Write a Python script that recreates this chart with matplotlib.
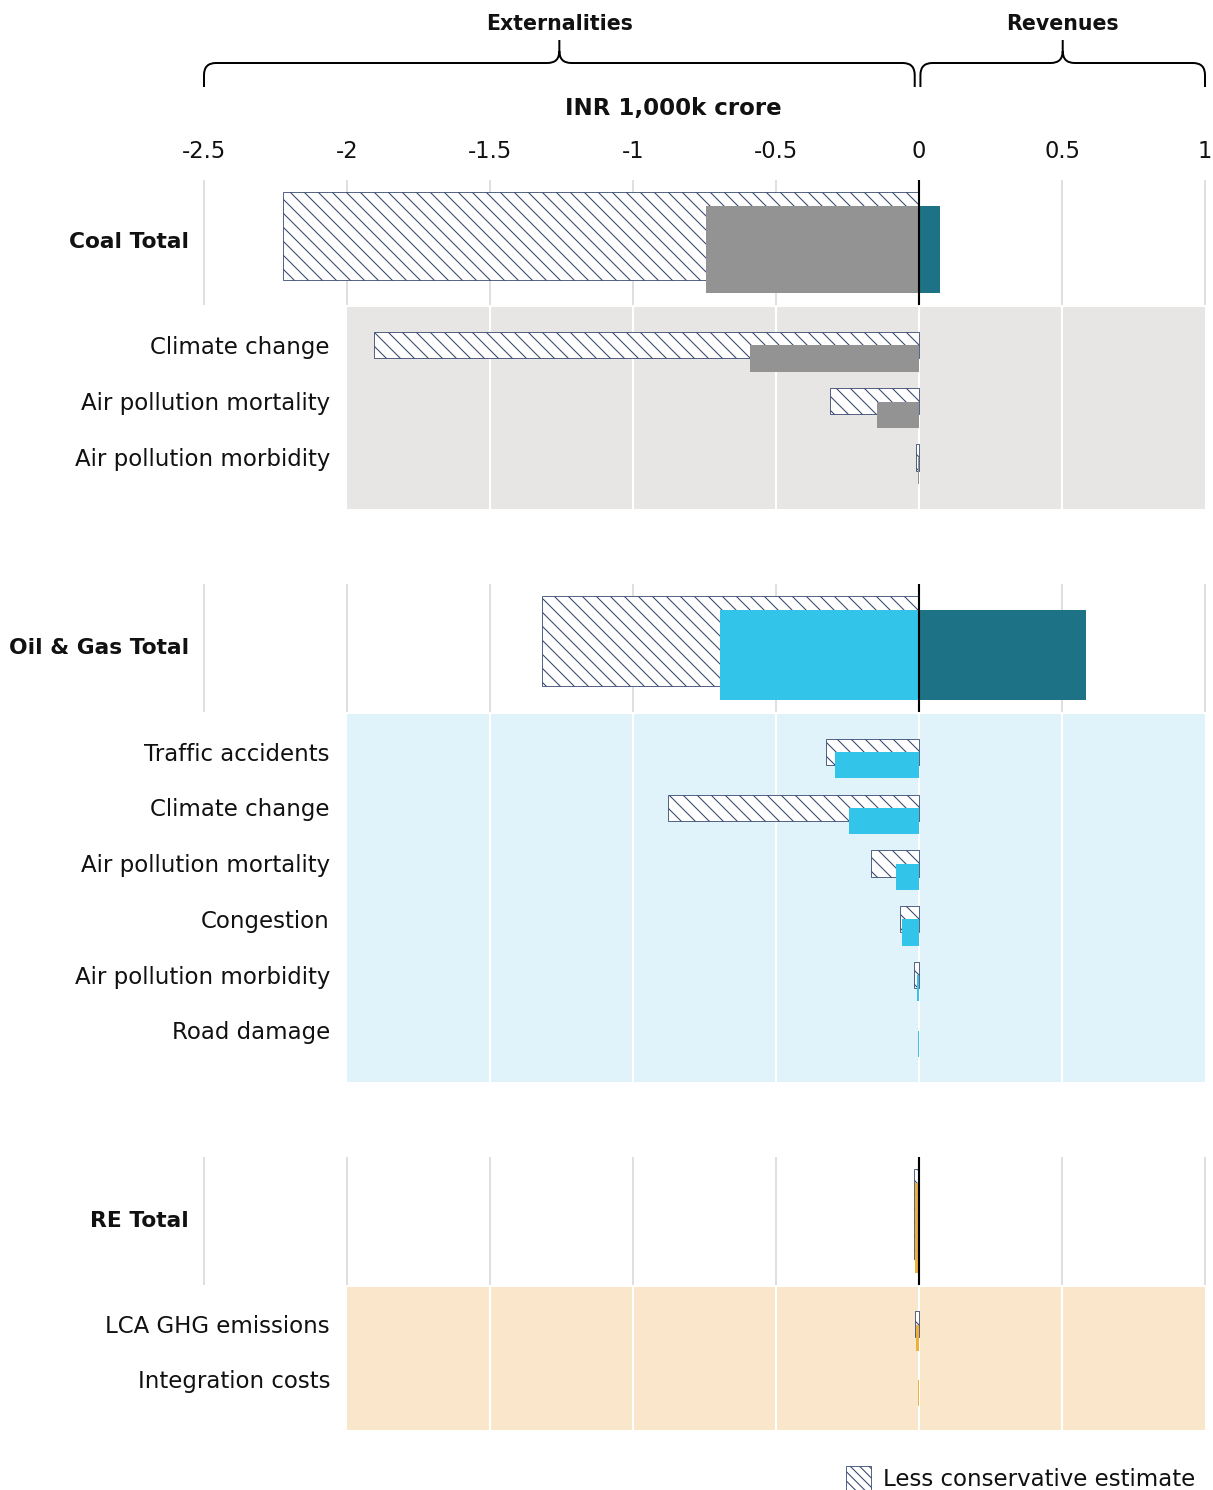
import matplotlib
matplotlib.use('Agg')
import matplotlib.pyplot as plt
from matplotlib.patches import Rectangle, PathPatch
from matplotlib.path import Path
from matplotlib.transforms import blended_transform_factory

# ---------------- data ----------------
ticks = [-2.5, -2, -1.5, -1, -0.5, 0, 0.5, 1]
tick_labels = ['-2.5', '-2', '-1.5', '-1', '-0.5', '0', '0.5', '1']

total_labels = ['Coal Total', 'Oil & Gas Total', 'RE Total']
total_conservative = [-0.745, -0.696, -0.014]
total_less_conservative = [-2.224, -1.318, -0.017]
total_revenue = [0.073, 0.584, 0.0]

coal_items = ['Climate change', 'Air pollution mortality', 'Air pollution morbidity']
coal_conservative = [-0.591, -0.147, -0.004]
coal_less_conservative = [-1.906, -0.311, -0.011]

oil_items = ['Traffic accidents', 'Climate change', 'Air pollution mortality',
             'Congestion', 'Air pollution morbidity', 'Road damage']
oil_conservative = [-0.294, -0.245, -0.080, -0.059, -0.008, -0.005]
oil_less_conservative = [-0.325, -0.878, -0.168, -0.066, -0.017, 0.0]

re_items = ['LCA GHG emissions', 'Integration costs']
re_conservative = [-0.011, -0.002]
re_less_conservative = [-0.013, 0.0]

# ---------------- style ----------------
W, H, DPI = 1213, 1490, 84
plt.rcParams['font.family'] = ['DejaVu Sans']
plt.rcParams['hatch.linewidth'] = 0.9

COAL = '#939393'
OIL = '#33c4ea'
RE = '#f0b13b'
REV = '#1d7286'
BG = ['#e8e6e4', '#e0f2fa', '#fae7cb']
GRID = '#dddddd'
HATCH = '#34456e'
TXT = '#111111'
FS = 19.6        # category labels / legend
FS_TICK = 19.4
FS_TOTAL = 18.6
FS_HEAD = 17.6
FS_UNIT = 19.6

fig = plt.figure(figsize=(W / DPI, H / DPI), dpi=DPI)
fig.patch.set_facecolor('white')

XL, XR = 204, 1205
XMIN, XMAX = -2.5, 1.0


def fbox(y0, y1, x0=XL, x1=XR):
    return [x0 / W, 1 - y1 / H, (x1 - x0) / W, (y1 - y0) / H]


def clean(ax):
    ax.set_xlim(XMIN, XMAX)
    ax.set_xticks([])
    ax.set_yticks([])
    for s in ax.spines.values():
        s.set_visible(False)
    ax.patch.set_alpha(0)


def total_panel(y0, y1, label, cons, less, rev, color):
    ax = fig.add_axes(fbox(y0, y1))
    clean(ax)
    ax.set_ylim(0.5, -0.5)
    gt = [t for t in ticks if t != 0]
    ax.vlines(gt, -0.5, 0.5, color=GRID, lw=1.6, zorder=0, clip_on=False)
    h, off = 0.70, 0.054
    if less != 0:
        ax.barh([-off], [less], height=h, color='white', edgecolor=HATCH,
                hatch='\\\\', lw=0.7, zorder=2)
    ax.barh([off], [cons], height=h, color=color, lw=0, zorder=3)
    ax.barh([off], [rev], height=h, color=REV, lw=0, zorder=3)
    ax.axvline(0, color='black', lw=1.8, zorder=5)
    tr = blended_transform_factory(fig.transFigure, ax.transData)
    ax.text(189 / W, 0, label, transform=tr, ha='right', va='center',
            fontsize=FS_TOTAL, fontweight='bold', color=TXT)
    return ax


def sub_panel(y0, y1, items, cons, less, color, bg):
    ax = fig.add_axes(fbox(y0, y1))
    clean(ax)
    n = len(items)
    ax.set_ylim(n - 0.2, -0.8)
    ax.axvspan(-2, 1, color=bg, lw=0, zorder=0)
    ax.vlines([t for t in ticks if -2 < t < 1], n - 0.2, -0.8, color='white',
              lw=1.8, zorder=1)
    h, off = 0.47, 0.12
    for y, v in enumerate(less):
        if v != 0:
            ax.barh([y - off], [v], height=h, color='white',
                    edgecolor=HATCH, hatch='\\\\', lw=0.7, zorder=2)
    ax.barh([y + off for y in range(n)], cons, height=h, color=color, lw=0,
            zorder=3)
    tr = blended_transform_factory(fig.transFigure, ax.transData)
    for y, lab in enumerate(items):
        ax.text(330 / W, y - 0.08, lab, transform=tr, ha='right', va='center',
                fontsize=FS, color=TXT)
    return ax


total_panel(180, 305, total_labels[0], total_conservative[0],
            total_less_conservative[0], total_revenue[0], COAL)
sub_panel(307, 509, coal_items, coal_conservative, coal_less_conservative, COAL, BG[0])
total_panel(584, 712, total_labels[1], total_conservative[1],
            total_less_conservative[1], total_revenue[1], OIL)
sub_panel(714, 1082, oil_items, oil_conservative, oil_less_conservative, OIL, BG[1])
total_panel(1157, 1285, total_labels[2], total_conservative[2],
            total_less_conservative[2], total_revenue[2], RE)
sub_panel(1287, 1430, re_items, re_conservative, re_less_conservative, RE, BG[2])

# ---------------- header ----------------
hax = fig.add_axes(fbox(0, 178))
clean(hax)
hax.set_ylim(178, 0)

px = (XMAX - XMIN) / (XR - XL)  # data units per pixel


def brace(xa, xb, y_h=63, y_end=87, y_tip=40, r=12):
    xc = (xa + xb) / 2
    rx = r * px
    verts = [(xa, y_end), (xa, y_h + r), (xa, y_h), (xa + rx, y_h),
             (xc - rx, y_h), (xc, y_h), (xc, y_h - r), (xc, y_tip),
             (xb, y_end), (xb, y_h + r), (xb, y_h), (xb - rx, y_h),
             (xc + rx, y_h), (xc, y_h), (xc, y_h - r)]
    codes = [Path.MOVETO, Path.LINETO, Path.CURVE3, Path.CURVE3,
             Path.LINETO, Path.CURVE3, Path.CURVE3, Path.LINETO,
             Path.MOVETO, Path.LINETO, Path.CURVE3, Path.CURVE3,
             Path.LINETO, Path.CURVE3, Path.CURVE3]
    hax.add_patch(PathPatch(Path(verts, codes), fc='none', ec='black',
                            lw=1.7, clip_on=False, capstyle='butt'))
    return xc


xc_ext = brace(XMIN, -0.015)
xc_rev = brace(0.005, XMAX)
hax.text(xc_ext, 24, 'Externalities', ha='center', va='center',
         fontsize=FS_HEAD, fontweight='bold', color=TXT)
hax.text(xc_rev, 24, 'Revenues', ha='center', va='center',
         fontsize=FS_HEAD, fontweight='bold', color=TXT)
for t, lab in zip(ticks, tick_labels):
    hax.text(t, 152, lab, ha='center', va='center', fontsize=FS_TICK, color=TXT)
fig.text(673 / W, 1 - 109 / H, 'INR 1,000k crore', ha='center', va='center',
         fontsize=FS_UNIT, fontweight='bold', color=TXT)

# ---------------- legend ----------------
fig.add_artist(Rectangle((846 / W, 1 - 1490 / H), 25 / W, 24 / H,
                         transform=fig.transFigure, facecolor='white',
                         edgecolor=HATCH, hatch='\\\\\\', lw=0.7))
fig.text(883 / W, 1 - 1479 / H, 'Less conservative estimate', ha='left',
         va='center', fontsize=FS, color=TXT)

fig.savefig('out.png', dpi=DPI, facecolor='white')
